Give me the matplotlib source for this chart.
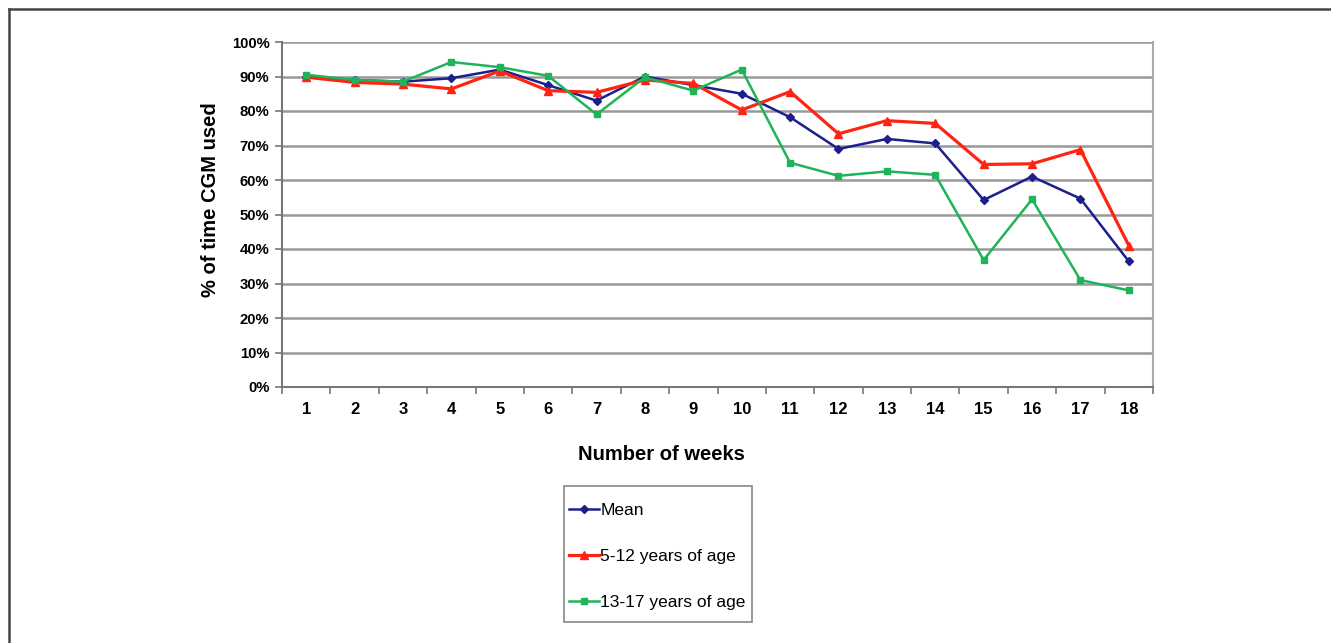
import numpy as np
import matplotlib
matplotlib.use("Agg")
from matplotlib import pyplot as plt
from matplotlib.lines import Line2D
from matplotlib.patches import Rectangle

plt.rcParams['font.family'] = ['Liberation Sans', 'DejaVu Sans']

# data
weeks = list(range(1, 19))
mean_use = [90.0, 89.0, 88.5, 89.5, 92.0, 87.5, 83.0, 90.0, 87.5, 85.0, 78.2, 69.0, 71.9, 70.6, 54.2, 61.0, 54.6, 36.4]
age_5_12 = [89.8, 88.3, 87.8, 86.4, 91.6, 85.9, 85.4, 89.0, 88.0, 80.3, 85.6, 73.4, 77.2, 76.4, 64.5, 64.7, 68.8, 41.0]
age_13_17 = [90.5, 89.0, 88.5, 94.2, 92.7, 90.2, 79.0, 89.8, 85.9, 92.0, 65.0, 61.2, 62.5, 61.5, 36.8, 54.4, 31.0, 28.0]
series_names = ["Mean", "5-12 years of age", "13-17 years of age"]

blue = "#1c1f8c"
red = "#ff2314"
green = "#1fb35a"

W, H = 1331, 643
fig = plt.figure(figsize=(W / 100, H / 100), dpi=100)
ax = fig.add_axes([282 / W, 1 - 387 / H, 871 / W, 345 / H])

# outer frame (top and left only)
fig.add_artist(Line2D([9 / W, 1], [1 - 9 / H, 1 - 9 / H], color="#444444", lw=1.8))
fig.add_artist(Line2D([9 / W, 9 / W], [0, 1 - 9 / H], color="#444444", lw=1.8))

ax.plot(weeks, mean_use, color=blue, lw=1.8, marker="D", ms=4.5, label=series_names[0])
ax.plot(weeks, age_5_12, color=red, lw=2.3, marker="^", ms=6, label=series_names[1])
ax.plot(weeks, age_13_17, color=green, lw=1.8, marker="s", ms=5, label=series_names[2])

ax.set_xlim(0.5, 18.5)
ax.set_ylim(0, 100)
ax.set_yticks(np.arange(0, 101, 10))
ax.set_yticklabels([f"{v}%" for v in range(0, 101, 10)], fontweight="bold", fontsize=10.7)
ax.set_xticks(weeks)
ax.set_xticklabels([str(w) for w in weeks], fontweight="bold", fontsize=12)
ax.set_xticks(np.arange(0.5, 18.6, 1), minor=True)
ax.tick_params(axis="x", which="major", length=0, pad=11)
ax.tick_params(axis="x", which="minor", length=5, color="#777777", width=1.2)
ax.tick_params(axis="y", length=5, color="#777777", width=1.2, pad=4)

ax.grid(axis="y", color="#999999", lw=1.8)
ax.set_axisbelow(True)
for side in ["left", "bottom"]:
    ax.spines[side].set_color("#777777")
    ax.spines[side].set_linewidth(1.5)
ax.spines["right"].set_color("#aaaaaa")
ax.spines["right"].set_linewidth(1.5)
ax.spines["top"].set_visible(False)

ax.set_ylabel("% of time CGM used", fontweight="bold", fontsize=14.5)
ax.yaxis.set_label_coords((220 - 282) / 871, (387 - 200) / 345)
ax.set_xlabel("Number of weeks", fontweight="bold", fontsize=14.5)
ax.xaxis.set_label_coords((661 - 282) / 871, (387 - 445) / 345)

# legend box drawn by hand to match the original frame
fig.add_artist(Rectangle((564 / W, 1 - 622 / H), 188 / W, 136 / H, transform=fig.transFigure,
                         fill=False, edgecolor="#888888", lw=1.2))
fig.legend(loc="upper left", bbox_to_anchor=(569 / W, 1 - 503 / H), fontsize=12.5,
           frameon=False, labelspacing=1.78, handlelength=1.75, handletextpad=0.05,
           borderpad=0, borderaxespad=0)

fig.savefig("out.png", dpi=100)
